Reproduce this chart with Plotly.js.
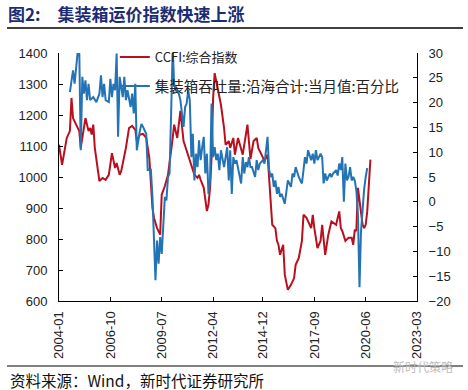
<!DOCTYPE html>
<html>
<head>
<meta charset="utf-8">
<script src="https://cdn.plot.ly/plotly-3.0.1.min.js"></script>
<style>
  html, body { margin: 0; padding: 0; background: #fff; }
  #chart { width: 468px; height: 390px; }
</style>
</head>
<body>
<div id="chart"></div>
<script>
// ---- Data ----
const seriesNames = ['CCFI:综合指数', '集装箱吞吐量:沿海合计:当月值:百分比'];

const ccfiDates = ['2004-01','2004-03','2004-06','2004-08','2004-09','2004-10','2004-12','2005-02','2005-03','2005-06','2005-08','2005-09','2005-10','2005-11','2005-12','2006-02','2006-03','2006-05','2006-07','2006-09','2006-11','2007-01','2007-02','2007-04','2007-05','2007-08','2007-10','2007-12','2008-02','2008-03','2008-05','2008-07','2008-09','2008-11','2009-01','2009-02','2009-04','2009-06','2009-07','2009-09','2009-11','2010-02','2010-03','2010-05','2010-07','2010-09','2010-11','2011-01','2011-04','2011-06','2011-07','2011-08','2011-10','2011-12','2012-01','2012-02','2012-03','2012-04','2012-05','2012-06','2012-09','2012-11','2012-12','2013-02','2013-03','2013-05','2013-06','2013-08','2013-11','2014-02','2014-04','2014-06','2014-08','2014-09','2014-10','2015-01','2015-03','2015-05','2015-06','2015-08','2015-09','2015-10','2015-11','2016-01','2016-02','2016-04','2016-06','2016-08','2016-09','2016-11','2017-01','2017-02','2017-04','2017-07','2017-08','2017-09','2017-11','2018-01','2018-02','2018-04','2018-06','2018-08','2018-11','2018-12','2019-01','2019-02','2019-03','2019-05','2019-07','2019-09','2019-10','2019-11','2019-12','2020-01','2020-02','2020-03','2020-04','2020-05','2020-06','2020-07','2020-08','2020-09'];
const ccfiValues = [1104,1039,1126,1148,1255,1190,1169,1148,1094,1190,1148,1158,1137,1169,1094,1019,987,997,991,1007,1077,1029,1045,1007,1019,1094,1158,1165,1152,1116,1137,1139,1126,1061,900,868,835,814,943,971,1007,1126,1169,1126,1213,1116,1084,1056,1007,997,1007,991,965,890,911,965,1061,1255,1335,1309,1233,1158,1104,1116,1094,1126,1072,1126,1072,1169,1058,1116,1126,1094,1084,1052,1072,900,846,835,794,781,749,781,685,636,652,674,717,739,794,878,868,835,878,835,771,794,846,749,814,857,846,868,889,835,826,794,804,804,781,830,826,965,922,900,846,835,846,889,965,1056];

const tputDates = ['2004-08','2004-10','2004-11','2004-12','2005-01','2005-02','2005-03','2005-04','2005-05','2005-06','2005-07','2005-08','2005-09','2005-11','2005-12','2006-01','2006-03','2006-04','2006-05','2006-06','2006-07','2006-09','2006-10','2006-11','2006-12','2007-01','2007-02','2007-03','2007-04','2007-06','2007-07','2007-08','2007-09','2007-10','2007-11','2007-12','2008-01','2008-02','2008-03','2008-05','2008-06','2008-07','2008-09','2008-10','2008-12','2009-01','2009-02','2009-03','2009-04','2009-05','2009-06','2009-07','2009-09','2009-10','2009-11','2009-12','2010-01','2010-02','2010-03','2010-04','2010-06','2010-07','2010-09','2010-10','2010-11','2010-12','2011-01','2011-02','2011-03','2011-04','2011-05','2011-06','2011-07','2011-08','2011-09','2011-10','2011-11','2011-12','2012-01','2012-02','2012-03','2012-04','2012-05','2012-06','2012-07','2012-08','2012-09','2012-11','2013-01','2013-02','2013-03','2013-04','2013-05','2013-06','2013-07','2013-08','2013-09','2013-10','2013-11','2013-12','2014-01','2014-02','2014-03','2014-04','2014-05','2014-07','2014-08','2014-09','2014-10','2014-12','2015-01','2015-02','2015-03','2015-04','2015-05','2015-06','2015-07','2015-08','2015-09','2015-10','2015-11','2015-12','2016-01','2016-02','2016-04','2016-05','2016-06','2016-07','2016-08','2016-09','2016-10','2016-11','2016-12','2017-01','2017-02','2017-03','2017-04','2017-05','2017-07','2017-08','2017-09','2017-10','2017-11','2017-12','2018-01','2018-02','2018-03','2018-04','2018-05','2018-06','2018-07','2018-08','2018-09','2018-11','2018-12','2019-01','2019-02','2019-03','2019-04','2019-05','2019-06','2019-07','2019-08','2019-09','2019-10','2019-11','2019-12','2020-01','2020-02','2020-03','2020-04','2020-05','2020-06','2020-07'];
const tputValues = [22.1,26.5,23.8,26.5,30.3,29.9,10.4,25.2,21.8,24.5,20.5,23.8,20.5,21.1,20.5,20.1,21.8,25.5,21.1,23.8,20.5,20.1,24.8,21.1,23.8,22.5,29.9,13.1,25.2,21.1,25.2,20.5,22.5,21.1,19.1,21.8,17.8,23.8,10.4,14.4,15.7,15.1,13.7,6.4,6.5,1.0,-6.4,-15.8,-7.8,-12.5,-7.1,-10.5,1.0,0.3,5.0,5.7,17.8,31,23.8,22.5,21.8,20.5,15.1,19.1,19.8,22.5,20.5,9.0,13.7,4.3,9.7,7.0,12.4,8.4,11.0,13.1,5.7,9.7,1.6,4.3,19.8,9.0,11.0,8.4,9.7,6.4,10.4,7.0,11.0,4.3,10.4,1.6,9.0,7.7,8.4,7.0,5.7,3.7,9.0,5.7,8.0,7.0,9.0,7.0,7.0,5.0,8.4,6.4,7.7,8.4,7.7,10.4,13.1,6.4,5.0,5.7,3.0,4.3,1.6,3.0,1.0,1.6,0.3,-0.4,4.3,3.7,3.0,5.7,5.0,7.0,5.7,5.0,4.3,3.7,6.4,9.0,7.7,10.4,8.4,9.7,7.7,10.4,8.4,9.0,9.7,9.0,3.7,5.7,4.3,5.0,5.7,5.0,5.7,6.4,5.3,7.7,6.4,9.0,0.0,7.7,4.3,5.0,7.0,4.3,5.0,4.3,2.3,-2.4,-17.2,-6.0,-1.5,2.5,5.0,6.8];

const xTickVals = ['2004-01-01','2006-10-01','2009-07-01','2012-04-01','2014-12-01','2017-09-01','2020-06-01','2023-03-01'];
const xTickText = ['2004-01','2006-10','2009-07','2012-04','2014-12','2017-09','2020-06','2023-03'];

const titleText = '图2:\u3000集装箱运价指数快速上涨';
const sourceText = '资料来源：Wind，新时代证券研究所';
const watermarkText = '新时代策略';

// ---- Chart ----
const tickFont = { family: 'Liberation Sans, Arial, sans-serif', size: 13, color: '#222' };
const cjk = 'Noto Sans CJK SC, sans-serif';

const traces = [
  { type: 'scatter', mode: 'lines', name: seriesNames[0], x: ccfiDates, y: ccfiValues,
    line: { color: '#B8101F', width: 2 }, yaxis: 'y', legend: 'legend' },
  { type: 'scatter', mode: 'lines', name: seriesNames[1], x: tputDates, y: tputValues,
    line: { color: '#2474B5', width: 2 }, yaxis: 'y2', legend: 'legend2' }
];

const layout = {
  width: 468, height: 390,
  margin: { l: 59, r: 51, t: 53, b: 89 },
  paper_bgcolor: '#fff', plot_bgcolor: '#fff',
  showlegend: true,
  title: {
    text: titleText, xref: 'container', yref: 'container',
    x: 8 / 468, xanchor: 'left', y: 1 - 15 / 390, yanchor: 'middle',
    font: { family: cjk, size: 17, weight: 'bold', color: '#1C2C72' }
  },
  xaxis: {
    type: 'date', range: ['2004-01-01', '2023-03-01'],
    tickmode: 'array', tickvals: xTickVals, ticktext: xTickText, tickangle: -90,
    ticks: 'inside', ticklen: 4, tickcolor: '#000',
    showline: true, linecolor: '#000', linewidth: 1,
    showgrid: false, zeroline: false, tickfont: tickFont, ticklabelstandoff: 4
  },
  yaxis: {
    range: [600, 1400], dtick: 100, tick0: 600,
    ticks: 'inside', ticklen: 4, tickcolor: '#000',
    showline: true, linecolor: '#000', linewidth: 1,
    showgrid: false, zeroline: false, tickfont: tickFont, ticklabelstandoff: 8
  },
  yaxis2: {
    overlaying: 'y', side: 'right', range: [-20, 30], dtick: 5, tick0: -20,
    ticks: 'inside', ticklen: 4, tickcolor: '#000',
    showline: true, linecolor: '#000', linewidth: 1,
    showgrid: false, zeroline: false, tickfont: tickFont, ticklabelstandoff: 8
  },
  legend: {
    x: 0.156, xanchor: 'left', y: 0.984, yanchor: 'middle',
    bgcolor: 'rgba(0,0,0,0)', borderwidth: 0,
    font: { family: cjk, size: 13, color: '#222' }
  },
  legend2: {
    x: 0.156, xanchor: 'left', y: 0.867, yanchor: 'middle',
    bgcolor: 'rgba(0,0,0,0)', borderwidth: 0,
    font: { family: cjk, size: 14.5, color: '#222' }
  },
  shapes: [
    { type: 'line', xref: 'paper', yref: 'paper',
      x0: (7 - 59) / 358, x1: (463 - 59) / 358, y0: (301 - 28) / 248, y1: (301 - 28) / 248,
      line: { color: '#000', width: 1.3 } },
    { type: 'line', xref: 'paper', yref: 'paper',
      x0: (7 - 59) / 358, x1: (463 - 59) / 358, y0: (301 - 366) / 248, y1: (301 - 366) / 248,
      line: { color: '#000', width: 1 } }
  ],
  annotations: [
    { text: sourceText, xref: 'paper', yref: 'paper', showarrow: false,
      x: (8 - 59) / 358, xanchor: 'left', y: (301 - 379.5) / 248, yanchor: 'middle',
      font: { family: cjk, size: 15.5, color: '#111' } },
    { text: watermarkText, xref: 'paper', yref: 'paper', showarrow: false,
      x: (455 - 59) / 358, xanchor: 'right', y: (301 - 366) / 248, yanchor: 'middle',
      font: { family: cjk, size: 12, color: '#bbb' } }
  ]
};

Plotly.newPlot('chart', traces, layout, { staticPlot: true, displayModeBar: false });
</script>
</body>
</html>
